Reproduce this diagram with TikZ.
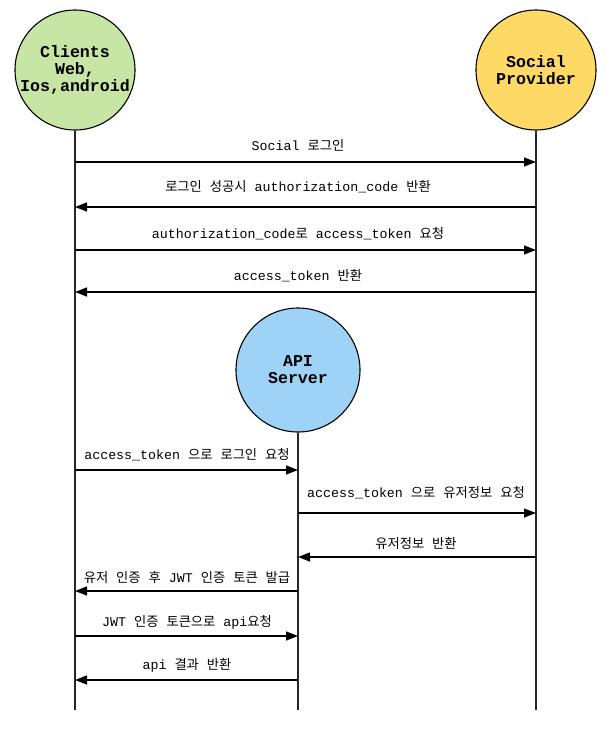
\documentclass[tikz,border=0pt]{standalone}
\usepackage{fontspec}
\setmonofont{Liberation Mono}
\newfontfamily\krfont{Noto Sans CJK KR}
\usetikzlibrary{arrows.meta}
\definecolor{cgreen}{HTML}{C7E6A6}
\definecolor{cyellow}{HTML}{FFD966}
\definecolor{cblue}{HTML}{9ED2F6}
\newcommand{\kr}[1]{{\krfont #1}}
\tikzset{
  actor/.style={circle, draw=black, line width=1.1pt, minimum size=120pt, inner sep=0pt, align=center,
    font=\fontsize{16.6}{17}\selectfont\ttfamily\bfseries},
  lifeline/.style={draw=black!85, line width=1.4pt},
  msg/.style={draw=black, line width=1.4pt, -{Triangle[length=12pt,width=9pt]}},
  lbl/.style={font=\fontsize{13.3}{15}\selectfont\ttfamily, inner sep=0pt}
}
\begin{document}
\begin{tikzpicture}[x=1pt,y=-1pt]
\useasboundingbox (0,0) rectangle (614,734);
\node[actor, fill=cgreen] (cl) at (75,70) {Clients\\Web,\\Ios,android};
\node[actor, fill=cyellow] (sp) at (536,70) {Social\\Provider};
\node[actor, fill=cblue, minimum size=124pt] (api) at (298,370) {API\\Server};
\coordinate (clend) at (75,710);
\coordinate (spend) at (536,710);
\coordinate (apiend) at (298,710);
\draw[lifeline] (cl.south) -- (clend);
\draw[lifeline] (sp.south) -- (spend);
\draw[lifeline] (api.south) -- (apiend);

\draw[msg] (cl |- 0,162) -- (sp |- 0,162);
\node[lbl] (m1) at (298,145) {Social \kr{로그인}};
\draw[msg] (sp |- 0,207) -- (cl |- 0,207);
\node[lbl] (m2) at (298,187) {\kr{로그인} \kr{성공시} authorization\_code \kr{반환}};
\draw[msg] (cl |- 0,250) -- (sp |- 0,250);
\node[lbl] (m3) at (298,234) {authorization\_code\kr{로} access\_token \kr{요청}};
\draw[msg] (sp |- 0,292) -- (cl |- 0,292);
\node[lbl] (m4) at (298,276) {access\_token \kr{반환}};

\draw[msg] (cl |- 0,470) -- (api |- 0,470);
\node[lbl] (m5) at (187,455) {access\_token \kr{으로} \kr{로그인} \kr{요청}};
\draw[msg] (api |- 0,513) -- (sp |- 0,513);
\node[lbl] (m6) at (416,493) {access\_token \kr{으로} \kr{유저정보} \kr{요청}};
\draw[msg] (sp |- 0,557) -- (api |- 0,557);
\node[lbl] (m7) at (416,543) {\kr{유저정보} \kr{반환}};
\draw[msg] (api |- 0,591) -- (cl |- 0,591);
\node[lbl] (m8) at (187,577) {\kr{유저} \kr{인증} \kr{후} JWT \kr{인증} \kr{토큰} \kr{발급}};
\draw[msg] (cl |- 0,636) -- (api |- 0,636);
\node[lbl] (m9) at (187,622) {JWT \kr{인증} \kr{토큰으로} api\kr{요청}};
\draw[msg] (api |- 0,680) -- (cl |- 0,680);
\node[lbl] (m10) at (187,665) {api \kr{결과} \kr{반환}};
\end{tikzpicture}
\end{document}
